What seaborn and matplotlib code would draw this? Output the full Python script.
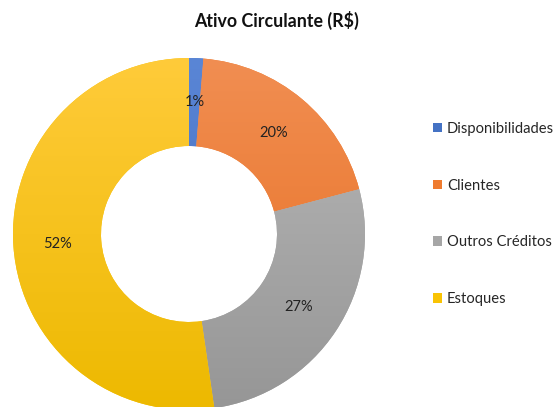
import matplotlib
matplotlib.use("Agg")
import matplotlib.pyplot as plt
import seaborn as sns
import numpy as np
from matplotlib.patches import Patch
from matplotlib.colors import to_rgb

categories = ["Disponibilidades", "Clientes", "Outros Créditos", "Estoques"]
values = [1.3, 19.6, 26.8, 52.3]
colors = ["#4472C4", "#EF7B2F", "#A6A6A6", "#F9C304"]
colors_top = ["#5A86D6", "#F18E52", "#B8B8B8", "#FFCB3A"]
colors_bottom = ["#3A64B4", "#E66D1E", "#969696", "#EDB900"]
title = "Ativo Circulante (R$)"

sns.set_theme(style="white")
plt.rcParams["font.family"] = ["Lato", "DejaVu Sans"]

fig = plt.figure(figsize=(5.53, 4.07), dpi=100)
ax = fig.add_axes([13 / 553, -3 / 407, 352 / 553, 352 / 407])

wedges, texts, autotexts = ax.pie(
    values, colors=colors, startangle=90, counterclock=False,
    radius=1.0, wedgeprops=dict(width=0.5, linewidth=0),
    autopct="%.0f%%", pctdistance=0.75,
    textprops=dict(fontsize=10.5, color="#222222"),
)
t = np.linspace(0, 1, 256)[:, None]
for w, ct, cb in zip(wedges, colors_top, colors_bottom):
    a, b = np.array(to_rgb(ct)), np.array(to_rgb(cb))
    grad = (a[None, None, :] * (1 - t[..., None]) + b[None, None, :] * t[..., None])
    grad = np.repeat(grad, 2, axis=1)
    im = ax.imshow(grad, extent=(-1, 1, -1, 1), origin="upper",
                   aspect="auto", zorder=1.5, interpolation="bilinear")
    im.set_clip_path(w)
for txt in autotexts:
    txt.set_zorder(3)

ax.set_xlim(-1, 1)
ax.set_ylim(-1, 1)
ax.set_aspect("equal")
ax.axis("off")

fig.text(0.5, 1 - 20 / 407, title, ha="center", va="center",
         fontsize=12.8, fontweight="bold", color="#111111")

handles = [Patch(facecolor=c, edgecolor="none") for c in colors]
fig.legend(handles, categories, loc="center left",
           bbox_to_anchor=(433 / 553, 1 - 214 / 407), frameon=False,
           fontsize=10.6, handlelength=0.6, handleheight=0.6,
           handletextpad=0.35, labelspacing=2.9, borderaxespad=0,
           borderpad=0)

fig.savefig("out.png", dpi=100)
